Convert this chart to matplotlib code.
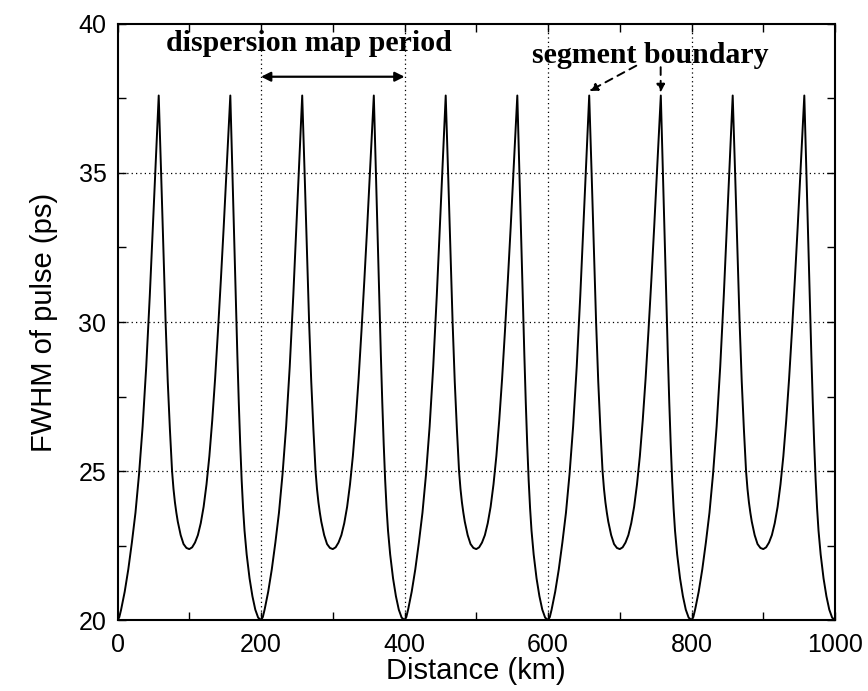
import matplotlib.pyplot as plt
import numpy as np
from matplotlib.ticker import MultipleLocator

# pulse width over one dispersion map period, repeated along the link
period_km = np.array([0, 2.5, 5, 10, 15, 20, 25, 30, 35, 40, 45, 50, 54, 57.4,
                      59, 61, 64, 67, 70, 73, 76, 78, 80, 82, 84, 88, 92, 96, 100,
                      104, 108, 112, 116, 120, 124, 128, 132, 136, 140, 144, 148, 152, 155, 157.2,
                      159, 161, 163, 165, 167, 169, 171, 173, 175, 177, 180, 184, 188, 192, 196, 200])
period_fwhm = np.array([20.0, 20.1, 20.35, 20.95, 21.7, 22.6, 23.6, 24.9, 26.5, 28.5, 30.9, 33.6, 35.8, 37.6,
                        36.3, 34.8, 32.4, 30.0, 28.0, 26.4, 25.0, 24.4, 23.95, 23.6, 23.3, 22.85, 22.55, 22.42, 22.38,
                        22.44, 22.6, 22.85, 23.25, 23.8, 24.55, 25.5, 26.7, 28.1, 29.7, 31.4, 33.2, 35.1, 36.5, 37.6,
                        36.0, 34.2, 32.4, 30.6, 28.9, 27.3, 25.9, 24.7, 23.75, 23.0, 22.2, 21.4, 20.8, 20.35, 20.08, 20.0])
map_period = 200   # km
n_periods = 5

x_ticks = [0, 200, 400, 600, 800, 1000]
y_ticks = [20, 25, 30, 35, 40]

sans = 'Liberation Sans'
serif = 'Liberation Serif'

distance = np.concatenate([period_km + k * map_period for k in range(n_periods)])
fwhm = np.tile(period_fwhm, n_periods)

fig = plt.figure(figsize=(8.68, 6.91), dpi=100)
ax = fig.add_axes([0.1354, 0.1027, 0.8266, 0.8626])

ax.plot(distance, fwhm, color='black', lw=1.4)

ax.set_xlim(0, 1000)
ax.set_ylim(20, 40)
ax.set_xticks(x_ticks)
ax.set_yticks(y_ticks)
ax.xaxis.set_minor_locator(MultipleLocator(100))
ax.yaxis.set_minor_locator(MultipleLocator(2.5))
ax.tick_params(which='both', direction='in', top=True, right=True, width=1.0, length=6)
ax.tick_params(axis='x', pad=9)
ax.tick_params(axis='y', pad=8)
for lab in ax.get_xticklabels() + ax.get_yticklabels():
    lab.set_fontfamily(sans)
    lab.set_fontsize(18)
for sp in ax.spines.values():
    sp.set_linewidth(1.5)

# dotted grid, only inside the frame
for y in y_ticks[1:-1]:
    ax.axhline(y, color='black', lw=0.9, ls=(0, (1, 2.5)), zorder=0)
for x in x_ticks[1:-1]:
    ax.axvline(x, color='black', lw=0.9, ls=(0, (1, 2.5)), zorder=0)

ax.set_xlabel('Distance (km)', fontfamily=sans, fontsize=21, labelpad=0)
ax.set_ylabel('FWHM of pulse (ps)', fontfamily=sans, fontsize=21, labelpad=15)

ax.text(267, 39.1, 'dispersion map period', fontfamily=serif, fontweight='bold',
        fontsize=21.5, ha='center', va='baseline')
ax.annotate('', xy=(200, 38.23), xytext=(400, 38.23),
            arrowprops=dict(arrowstyle='<|-|>', color='black', lw=1.6,
                            mutation_scale=14, shrinkA=0, shrinkB=0))

ax.text(743, 38.68, 'segment boundary', fontfamily=serif, fontweight='bold',
        fontsize=21.5, ha='center', va='baseline')
ax.annotate('', xy=(657.5, 37.75), xytext=(723, 38.6),
            arrowprops=dict(arrowstyle='-|>', color='black', lw=1.4, ls=(0, (4, 3)),
                            mutation_scale=12, shrinkA=0, shrinkB=0))
ax.annotate('', xy=(757, 37.7), xytext=(757, 38.55),
            arrowprops=dict(arrowstyle='-|>', color='black', lw=1.4, ls=(0, (4, 3)),
                            mutation_scale=12, shrinkA=0, shrinkB=0))

fig.savefig('out.png', dpi=100)
